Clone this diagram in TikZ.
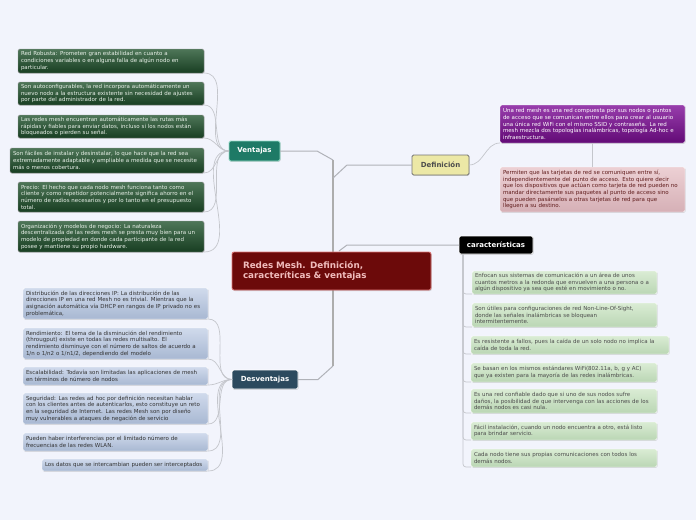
\documentclass[tikz,border=0pt]{standalone}
\usepackage{fontspec}
\setmainfont{DejaVu Sans}
\usetikzlibrary{shadows}
\definecolor{mybg}{RGB}{242, 244, 252}
\definecolor{myred}{RGB}{108, 10, 10}
\definecolor{myteal}{RGB}{30, 122, 102}
\definecolor{myslate}{RGB}{44, 74, 94}
\definecolor{mysand}{RGB}{236, 232, 166}
\definecolor{mygrey}{RGB}{196, 198, 204}

\begin{document}
\begin{tikzpicture}[x=1pt, y=-1pt,
        % Small print for all leaf boxes
        font=\fontsize{5.5}{6.7}\selectfont,
        % Shared look of every box
        box/.style n args={2}{anchor=north west, outer sep=0pt, inner xsep=3pt, inner ysep=1pt,
            text width=#1, minimum height=#2, align=left, rounded corners=1.5pt,
            drop shadow={shadow xshift=0.6pt, shadow yshift=-0.8pt, opacity=0.25}},
        vleaf/.style={draw=black!40, top color={rgb,255:red,78;green,118;blue,88},
            bottom color={rgb,255:red,24;green,62;blue,34}, text={rgb,255:red,232;green,240;blue,232}},
        dleaf/.style={draw=white, top color={rgb,255:red,208;green,218;blue,236},
            bottom color={rgb,255:red,168;green,184;blue,210}, text=black!80},
        cleaf/.style={draw=white, top color={rgb,255:red,218;green,236;blue,212},
            bottom color={rgb,255:red,186;green,214;blue,180}, text=black!70},
        pleaf/.style={draw=white, top color={rgb,255:red,152;green,62;blue,172},
            bottom color={rgb,255:red,98;green,10;blue,118}, text=white},
        kleaf/.style={draw=white, top color={rgb,255:red,236;green,208;blue,212},
            bottom color={rgb,255:red,214;green,176;blue,182}, text={rgb,255:red,96;green,28;blue,28}},
        % Branch nodes
        topic/.style={outer sep=0pt, rounded corners=1.5pt, font=\fontsize{7}{8.5}\selectfont\bfseries,
            line width=0.8pt, drop shadow={shadow xshift=0.6pt, shadow yshift=-0.8pt, opacity=0.3}},
        % Connectors
        conn/.style={draw=mygrey, line width=0.7pt},
        branch/.style={draw=mygrey!90!black, line width=1pt},
        trunk/.style={draw=black!32, line width=2.2pt}
    ]

    \fill[mybg] (0,0) rectangle (696,520);
    \useasboundingbox (0,0) rectangle (696,520);

    % Ventajas and its leaves
    \node[topic, fill=myteal, draw={rgb,255:red,150;green,220;blue,200}, text=white,
        minimum width=51pt, minimum height=20pt] (vent) at (254.5,151) {Ventajas};
    \node[box={180pt}{24pt}, vleaf] (v1) at (18,49) {Red Robusta: Prometen gran estabilidad en cuanto a\\condiciones variables o en alguna falla de algún nodo en\\particular.};
    \node[box={180pt}{23pt}, vleaf] (v2) at (18,82) {Son autoconfigurables, la red incorpora automáticamente un\\nuevo nodo a la estructura existente sin necesidad de ajustes\\por parte del administrador de la red.};
    \node[box={180pt}{23pt}, vleaf] (v3) at (18,115) {Las redes mesh encuentran automáticamente las rutas más\\rápidas y fiables para enviar datos, incluso si los nodos están\\bloqueados o pierden su señal.};
    \node[box={188pt}{25pt}, vleaf] (v4) at (10,148) {Son fáciles de instalar y desinstalar, lo que hace que la red sea\\extremadamente adaptable y ampliable a medida que se necesite\\más o menos cobertura.};
    \node[box={180pt}{30pt}, vleaf] (v5) at (18,182) {Precio: El hecho que cada nodo mesh funciona tanto como\\cliente y como repetidor potencialmente significa ahorro en el\\número de radios necesarios y por lo tanto en el presupuesto\\total.};
    \node[box={180pt}{31pt}, vleaf] (v6) at (18,221) {Organización y modelos de negocio: La naturaleza\\descentralizada de las redes mesh se presta muy bien para un\\modelo de propiedad en donde cada participante de la red\\posee y mantiene su propio hardware.};

    % Desventajas and its leaves
    \node[topic, fill=myslate, draw=white, text=white,
        minimum width=66pt, minimum height=19pt] (desv) at (265,379.5) {Desventajas};
    \node[box={179pt}{31pt}, dleaf] (d1) at (23,288) {Distribución de las direcciones IP: La distribución de las\\direcciones IP en una red Mesh no es trivial. Mientras que la\\asignación automática vía DHCP en rangos de IP privado no es\\problemática,};
    \node[box={179pt}{31pt}, dleaf] (d2) at (23,328) {Rendimiento: El tema de la disminución del rendimiento\\(througput) existe en todas las redes multisalto. El\\rendimiento disminuye con el número de saltos de acuerdo a\\1/n o 1/n2 o 1/n1/2, dependiendo del modelo};
    \node[box={179pt}{18pt}, dleaf] (d3) at (23,367) {Escalabilidad: Todavía son limitadas las aplicaciones de mesh\\en términos de número de nodos};
    \node[box={179pt}{31pt}, dleaf] (d4) at (23,393) {Seguridad: Las redes ad hoc por definición necesitan hablar\\con los clientes antes de autenticarlos, esto constituye un reto\\en la seguridad de Internet. Las redes Mesh son por diseño\\muy vulnerables a ataques de negación de servicio};
    \node[box={179pt}{18pt}, dleaf] (d5) at (23,433) {Pueden haber interferencias por el limitado número de\\frecuencias de las redes WLAN.};
    \node[box={160pt}{12pt}, dleaf] (d6) at (42,459) {Los datos que se intercambian pueden ser interceptados};

    % Definicion and its leaves
    \node[topic, fill=mysand, draw=black!55, text=black!70,
        minimum width=57pt, minimum height=20pt] (def) at (440.5,165) {Definición};
    \node[box={179pt}{38pt}, pleaf] (p1) at (500,105) {Una red mesh es una red compuesta por sus nodos o puntos\\de acceso que se comunican entre ellos para crear al usuario\\una única red WiFi con el mismo SSID y contraseña. La red\\mesh mezcla dos topologías inalámbricas, topología Ad-hoc e\\infraestructura.};
    \node[box={179pt}{45pt}, kleaf] (p2) at (500,167) {Permiten que las tarjetas de red se comuniquen entre sí,\\independientemente del punto de acceso. Esto quiere decir\\que los dispositivos que actúan como tarjeta de red pueden no\\mandar directamente sus paquetes al punto de acceso sino\\que pueden pasárselos a otras tarjetas de red para que\\lleguen a su destino.};

    % caracteristicas and its leaves
    \node[topic, fill=black, draw=white, text=white,
        minimum width=74pt, minimum height=18pt] (car) at (496,245) {características};
    \node[box={179pt}{23pt}, cleaf] (c1) at (472,271) {Enfocan sus sistemas de comunicación a un área de unos\\cuantos metros a la redonda que envuelven a una persona o a\\algún dispositivo ya sea que esté en movimiento o no.};
    \node[box={179pt}{24pt}, cleaf] (c2) at (472,303) {Son útiles para configuraciones de red Non-Line-Of-Sight,\\donde las señales inalámbricas se bloquean\\intermitentemente.};
    \node[box={192pt}{18pt}, cleaf] (c3) at (471,336) {Es resistente a fallos, pues la caída de un solo nodo no implica la\\caída de toda la red.};
    \node[box={180pt}{19pt}, cleaf] (c4) at (471,363) {Se basan en los mismos estándares WiFi(802.11a, b, g y AC)\\que ya existen para la mayoría de las redes inalámbricas.};
    \node[box={180pt}{24pt}, cleaf] (c5) at (471,389) {Es una red confiable dado que si uno de sus nodos sufre\\daños, la posibilidad de que intervenga con las acciones de los\\demás nodos es casi nula.};
    \node[box={180pt}{18pt}, cleaf] (c6) at (471,422) {Fácil instalación, cuando un nodo encuentra a otro, está listo\\para brindar servicio.};
    \node[box={180pt}{18pt}, cleaf] (c7) at (471,449) {Cada nodo tiene sus propias comunicaciones con todos los\\demás nodos.};

    % Connectors to the leaves
    \foreach \n in {v1, v2, v3, v4, v5, v6} {
        \draw[conn] (\n.south east) to[out=0, in=180] (vent.west);
    }
    \foreach \n in {d1, d2, d3, d4, d5, d6} {
        \draw[conn] (\n.south east) to[out=0, in=180] (desv.west);
    }
    \foreach \n in {c1, c2, c3, c4, c5, c6, c7} {
        \draw[conn, rounded corners=3pt] ([xshift=4pt]car.south west) |- (\n.south west);
    }
    \draw[conn] (def.east) to[out=0, in=180] (p1.south west);
    \draw[conn, line width=1pt] (p1.south) -- (p2.north);

    % Trunk behind the central topic
    \coordinate (ttop) at (333,160);
    \coordinate (tbot) at (333,366);
    \draw[trunk] (ttop) -- (tbot);
    \draw[branch] (vent.east) -- ++(37,0) -- (ttop);
    \draw[branch] (desv.east) -- ++(20,0) -- (tbot);
    \draw[branch] (def.west) -- ++(-65,0) -- ++(-14,13);
    \draw[branch] (car.west) -- ++(-112,0) -- ++(-8,6);

    % Central topic
    \node[outer sep=0pt, anchor=north west, fill=myred, draw={rgb,255:red,222;green,120;blue,120},
        line width=0.8pt, rounded corners=2pt, minimum width=199pt, minimum height=38pt,
        text width=177pt, inner xsep=11pt, align=left,
        text={rgb,255:red,240;green,188;blue,188}, font=\fontsize{8.8}{10.5}\selectfont\bfseries,
        drop shadow={shadow xshift=0.8pt, shadow yshift=-1pt, opacity=0.3}]
        (main) at (232,252) {Redes Mesh. Definición,\\caracteríticas \& ventajas};

\end{tikzpicture}
\end{document}
